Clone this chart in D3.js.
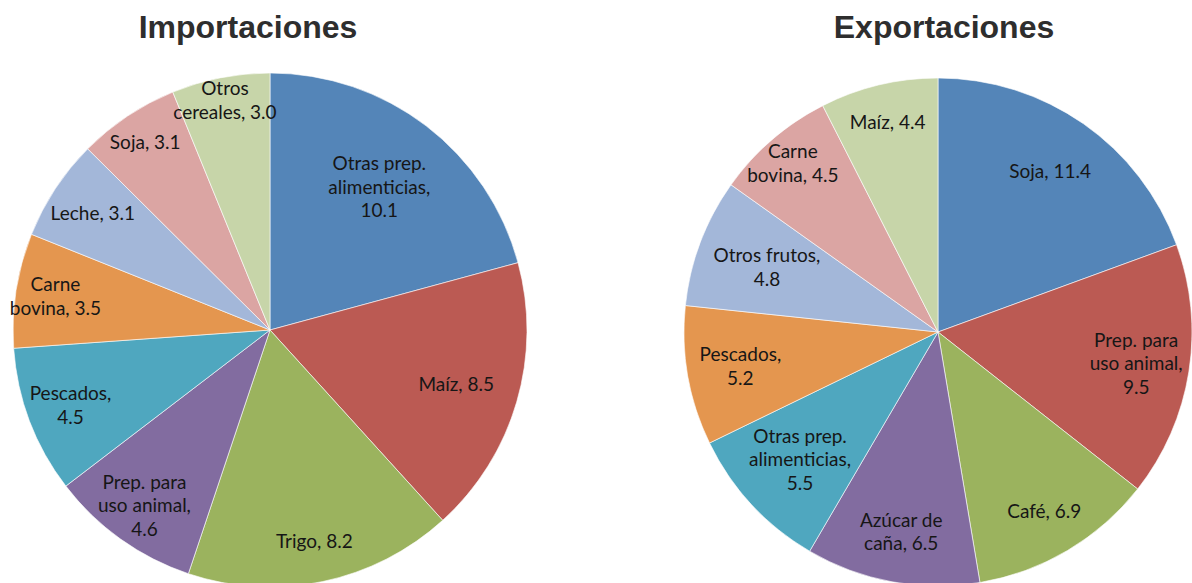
<!DOCTYPE html>
<html>
<head>
<meta charset="utf-8">
<script src="https://cdn.jsdelivr.net/npm/d3@7"></script>
<style>
  body { margin: 0; background: #fff; }
  #canvas { width: 1192px; height: 583px; overflow: hidden; }
  .title { font-family: "Liberation Sans", Arial, sans-serif; font-weight: bold; font-size: 32px; fill: #2e2e2e; }
  .lbl { font-family: Lato, "Noto Sans", sans-serif; font-size: 19px; fill: #161616; }
</style>
</head>
<body>
<div id="canvas"></div>
<script>
// data (clockwise from 12 o'clock)
var impNames = ['Otras prep.\nalimenticias,', 'Maíz,', 'Trigo,', 'Prep. para\nuso animal,', 'Pescados,',
                'Carne\nbovina,', 'Leche,', 'Soja,', 'Otros\ncereales,'];
var impValues = [10.1, 8.5, 8.2, 4.6, 4.5, 3.5, 3.1, 3.1, 3.0];
// does the value go on its own line?
var impValueBreak = [true, false, false, true, true, false, false, false, false];

var expNames = ['Soja,', 'Prep. para\nuso animal,', 'Café,', 'Azúcar de\ncaña,', 'Otras prep.\nalimenticias,',
                'Pescados,', 'Otros frutos,', 'Carne\nbovina,', 'Maíz,'];
var expValues = [11.4, 9.5, 6.9, 6.5, 5.5, 5.2, 4.8, 4.5, 4.4];
var expValueBreak = [false, true, false, false, true, true, true, false, false];

var colors = ['#5485b8', '#bb5a53', '#9bb35e', '#826ca0', '#4fa7bf', '#e4964f', '#a3b7d9', '#dba5a3', '#c7d5a9'];

// how far out each label sits (share of radius), like excel's best fit
var impLabelR = [0.70, 0.755, 0.84, 0.84, 0.83, 0.845, 0.825, 0.875, 0.91];
var expLabelR = [0.77, 0.79, 0.82, 0.80, 0.74, 0.79, 0.72, 0.875, 0.85];

var W = 1192, H = 583;
var svg = d3.select('#canvas').append('svg')
    .attr('width', W)
    .attr('height', H);

function drawPie(cx, cy, r, title, titleX, names, values, breaks, labelR) {
    var g = svg.append('g').attr('transform', 'translate(' + cx + ',' + cy + ')');

    var pie = d3.pie().sort(null).value(function(d){ return d.v; });
    var rows = names.map(function(n, i){ return {name: n, v: values[i], br: breaks[i]}; });
    var arcs = pie(rows);

    var arc = d3.arc().innerRadius(0).outerRadius(r);

    g.selectAll('path')
        .data(arcs)
        .enter()
        .append('path')
        .attr('d', arc)
        .attr('fill', function(d){ return colors[d.index]; })
        .attr('stroke', '#fff')
        .attr('stroke-opacity', 0.6)
        .attr('stroke-width', 1);

    var lab = g.selectAll('text')
        .data(arcs)
        .enter()
        .append('text')
        .attr('class', 'lbl')
        .attr('text-anchor', 'middle')
        .attr('transform', function(d){
            var lr = r * labelR[d.index];
            var a = (d.startAngle + d.endAngle) / 2;
            return 'translate(' + (Math.sin(a) * lr) + ',' + (-Math.cos(a) * lr) + ')';
        });

    lab.each(function(d){
        var lines = d.data.name.split('\n');
        if (d.data.br) lines.push(d3.format('.1f')(d.data.v));
        else lines[lines.length - 1] += ' ' + d3.format('.1f')(d.data.v);
        var lh = 23.5;
        var y0 = -(lines.length - 1) * lh / 2 + 6.5;
        var t = d3.select(this);
        lines.forEach(function(s, k){
            t.append('tspan').attr('x', 0).attr('y', y0 + k * lh).text(s);
        });
    });

    svg.append('text')
        .attr('class', 'title')
        .attr('x', titleX)
        .attr('y', 38)
        .attr('text-anchor', 'middle')
        .text(title);
}

drawPie(270, 330, 257, 'Importaciones', 248, impNames, impValues, impValueBreak, impLabelR);
drawPie(938, 332, 254, 'Exportaciones', 944, expNames, expValues, expValueBreak, expLabelR);
</script>
</body>
</html>
